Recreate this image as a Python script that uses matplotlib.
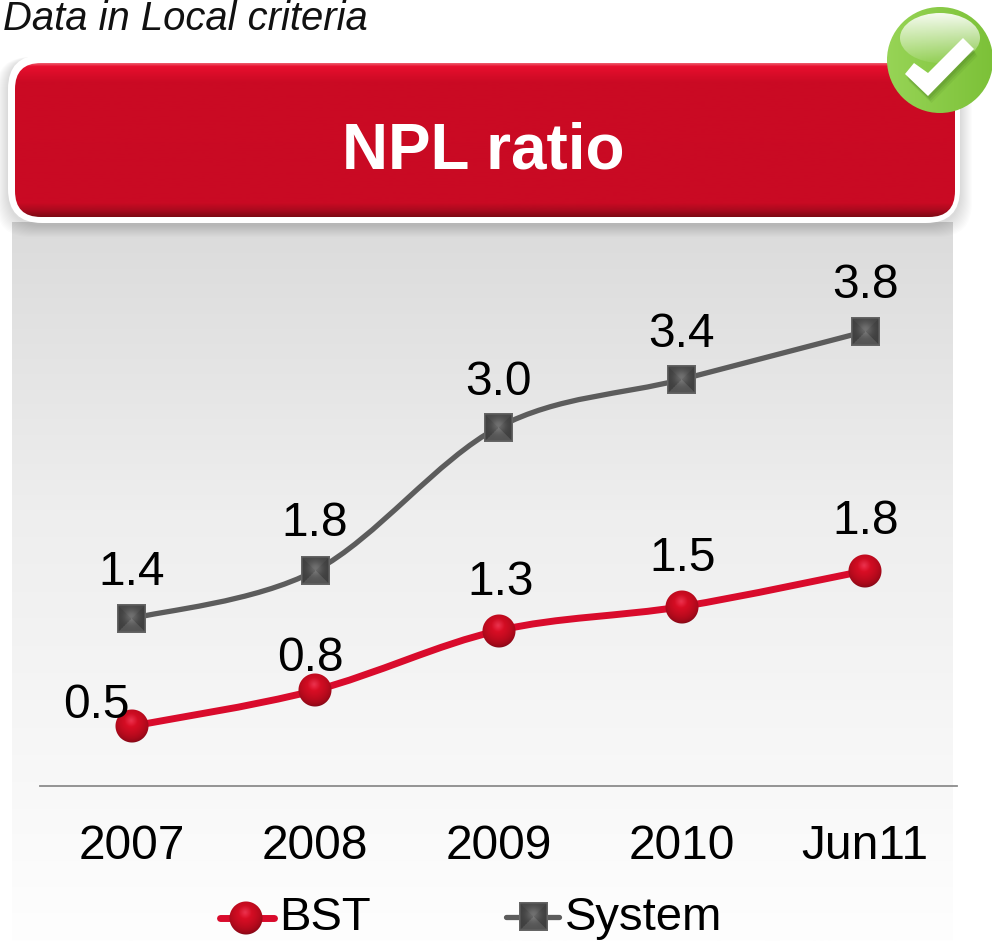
import numpy as np
import matplotlib
matplotlib.use('Agg')
import matplotlib.pyplot as plt
from matplotlib.patches import FancyBboxPatch, PathPatch, Polygon, Circle, Ellipse
from matplotlib.path import Path
from matplotlib.colors import LinearSegmentedColormap
from matplotlib.offsetbox import OffsetImage, AnnotationBbox

periods = ['2007', '2008', '2009', '2010', 'Jun11']
bst_values = [0.5, 0.8, 1.3, 1.5, 1.8]
system_values = [1.4, 1.8, 3.0, 3.4, 3.8]
bst_label_offsets = [(-35, -27), (-5, -38), (2, -54), (1, -54), (0, -55)]
system_label_offsets = [(0, -52), (0, -53), (0, -51), (0, -51), (0, -52)]

RED = '#d90b2c'
GRAY = '#5c5c5c'
FONT = 'Liberation Sans'


def smooth_path(xs, ys):
    # bezier segments through the points, same idea as a smoothed office line
    pts = np.column_stack([xs, ys]).astype(float)
    verts = [pts[0]]
    codes = [Path.MOVETO]
    for i in range(len(pts) - 1):
        prev = pts[max(i - 1, 0)]
        nxt = pts[min(i + 2, len(pts) - 1)]
        verts.append(pts[i] + (pts[i + 1] - prev) / 6)
        verts.append(pts[i + 1] - (nxt - pts[i]) / 6)
        verts.append(pts[i + 1])
        codes += [Path.CURVE4] * 3
    return Path(verts, codes)


def sphere_marker(size=34):
    c = np.linspace(-1, 1, size * 2)
    xx, yy = np.meshgrid(c, c)
    r = np.hypot(xx, yy)
    # light falls from above, darker rim at the bottom
    light = 1 - np.clip(np.hypot(xx + 0.05, yy + 0.25) / 1.25, 0, 1)
    spot = np.clip(1 - np.hypot(xx + 0.05, yy + 0.35) / 0.4, 0, 1)
    img = np.zeros((size * 2, size * 2, 4))
    img[..., 0] = 0.44 + 0.46 * light ** 0.45 + 0.03 * spot
    img[..., 1] = 0.03 + 0.03 * light + 0.14 * spot
    img[..., 2] = 0.09 + 0.07 * light + 0.15 * spot
    img[..., :3] = np.clip(img[..., :3], 0, 1)
    img[..., 3] = np.clip((1 - r) * size, 0, 1)
    return img


def pyramid_marker(size=29):
    # dark square, soft glow around the apex and a slightly lit bevel
    c = np.linspace(-1, 1, size * 2)
    xx, yy = np.meshgrid(c, c)
    img = np.ones((size * 2, size * 2, 4))
    shade = np.full(xx.shape, 0.25)
    shade = np.where((yy > 0) & (np.abs(yy) >= np.abs(xx)), 0.33, shade)
    shade = np.where((yy < 0) & (np.abs(yy) >= np.abs(xx)), 0.28, shade)
    shade = shade + 0.16 * np.exp(-(np.hypot(xx, yy + 0.15) / 0.5) ** 2)
    edge = np.maximum(np.abs(xx), np.abs(yy)) > 0.92
    shade = np.where(edge, 0.40, shade)
    img[..., 0] = img[..., 1] = img[..., 2] = shade
    return img


def put_marker(ax, img, x, y, zorder=5):
    box = AnnotationBbox(OffsetImage(img, zoom=0.5, dpi_cor=False), (x, y), xycoords='data',
                         frameon=False, pad=0, zorder=zorder)
    ax.add_artist(box)


fig = plt.figure(figsize=(9.92, 9.41), dpi=100, facecolor='white')

# background layer in pixel coordinates
bg = fig.add_axes([0, 0, 1, 1])
bg.set_xlim(0, 992)
bg.set_ylim(941, 0)
bg.axis('off')

panel_cmap = LinearSegmentedColormap.from_list(
    'panel', [(0, '#dbdbdb'), (0.4, '#eeeeee'), (0.78, '#f8f8f8'), (1, '#fefefe')])
bg.imshow(np.linspace(0, 1, 256).reshape(-1, 1), extent=(12, 953, 941, 222), cmap=panel_cmap,
          aspect='auto', zorder=1)

# soft shadow behind the header
for grow in range(2, 26, 2):
    bg.add_patch(FancyBboxPatch((8 - grow / 2, 55 + 2), 952 + grow, 168 + grow / 2,
                                boxstyle='round,pad=0,rounding_size=34', fc='black', ec='none',
                                alpha=0.012, zorder=2))
bg.add_patch(FancyBboxPatch((8, 55), 952, 168, boxstyle='round,pad=0,rounding_size=34',
                            fc='white', ec='none', zorder=3))

red_box = FancyBboxPatch((15, 63), 940, 154, boxstyle='round,pad=0,rounding_size=26',
                         fc='none', ec='none', zorder=4)
bg.add_patch(red_box)
header_cmap = LinearSegmentedColormap.from_list(
    'header', [(0, '#ee5a6c'), (0.02, '#e80f2e'), (0.12, '#cb0a24'), (0.91, '#c90a23'),
               (0.96, '#a80a1e'), (1, '#7e0914')])
header = bg.imshow(np.linspace(0, 1, 256).reshape(-1, 1), extent=(15, 955, 217, 63),
                   cmap=header_cmap, aspect='auto', zorder=4)
header.set_clip_path(red_box)
bg.set_xlim(0, 992)
bg.set_ylim(941, 0)

bg.text(483, 151, 'NPL ratio', color='white', fontsize=46, fontweight='bold', family=FONT,
        ha='center', va='center', zorder=6)
bg.text(3, 29.5, 'Data in Local criteria', fontsize=28.8, style='italic', family=FONT,
        color='#111111', ha='left', va='baseline', zorder=6)

# green badge with the tick in the corner
badge = Circle((940, 60), 53, fc='none', ec='none', zorder=7)
bg.add_patch(badge)
badge_cmap = LinearSegmentedColormap.from_list('badge', ['#97d456', '#7cc138'])
badge_img = bg.imshow(np.linspace(0, 1, 256).reshape(1, -1), extent=(887, 993, 113, 7),
                      cmap=badge_cmap, aspect='auto', zorder=7)
badge_img.set_clip_path(badge)
gloss = Ellipse((940, 38), 80, 50, fc='none', ec='none', zorder=8)
bg.add_patch(gloss)
gloss_rgba = np.ones((256, 1, 4))
gloss_rgba[:, 0, 3] = np.linspace(0.92, 0.08, 256)
gloss_img = bg.imshow(gloss_rgba, extent=(900, 980, 63, 13), aspect='auto', zorder=8)
gloss_img.set_clip_path(gloss)
bg.set_xlim(0, 992)
bg.set_ylim(941, 0)
tick_shape = [(905, 74), (914, 63), (928, 73), (963, 38), (974, 49), (928, 96)]
for shift, alpha in zip([7, 5, 3], [0.10, 0.14, 0.18]):
    bg.add_patch(Polygon([(x + shift / 2, y + shift) for x, y in tick_shape], fc='#3f6f1c', ec='none',
                         alpha=alpha, zorder=9))
bg.add_patch(Polygon(tick_shape, fc='white', ec='none', zorder=10))

# legend drawn by hand, the keys sit tight against their text
bg.plot([220, 274], [918, 918], color=RED, lw=5, solid_capstyle='round', zorder=4)
put_marker(bg, sphere_marker(), 246, 918)
bg.text(279, 930, 'BST', fontsize=34, family=FONT, color='black', va='baseline', ha='left', zorder=6)
bg.plot([506, 559], [917, 917], color=GRAY, lw=3.8, solid_capstyle='round', zorder=4)
put_marker(bg, pyramid_marker(), 533, 917)
bg.text(565, 930, 'System', fontsize=34, family=FONT, color='black', va='baseline', ha='left', zorder=6)

# chart axes, zero line at pixel 786
unit_px = 119.6
top_px = 240
ax = fig.add_axes([40 / 992, (941 - 786) / 941, (957 - 40) / 992, (786 - top_px) / 941])
ax.patch.set_alpha(0)
ax.set_xlim(-0.5, 4.5)
ax.set_ylim(0, (786 - top_px) / unit_px)
for side in ['top', 'left', 'right']:
    ax.spines[side].set_visible(False)
ax.spines['bottom'].set_color('#8c8c8c')
ax.spines['bottom'].set_linewidth(1.3)
ax.set_yticks([])
x_pos = np.arange(len(periods))
ax.set_xticks(x_pos)
ax.set_xticklabels(periods, fontsize=34.5, family=FONT, color='black')
ax.tick_params(axis='x', length=0, pad=27.5)

ax.add_patch(PathPatch(smooth_path(x_pos, system_values), fc='none', ec=GRAY, lw=3.8, capstyle='round'))
ax.add_patch(PathPatch(smooth_path(x_pos, bst_values), fc='none', ec=RED, lw=5, capstyle='round'))

# label offsets are in pixels, negative means above the point
for x, y, off in zip(x_pos, system_values, system_label_offsets):
    put_marker(ax, pyramid_marker(), x, y)
    ax.annotate(f'{y:.1f}', (x, y), xytext=(off[0], -off[1] - 6), textcoords='offset pixels',
                fontsize=34.5, family=FONT, ha='center', va='center', zorder=6)
for x, y, off in zip(x_pos, bst_values, bst_label_offsets):
    put_marker(ax, sphere_marker(), x, y)
    ax.annotate(f'{y:.1f}', (x, y), xytext=(off[0], -off[1] - 6), textcoords='offset pixels',
                fontsize=34.5, family=FONT, ha='center', va='center', zorder=6)

fig.savefig('out.png', dpi=100)
